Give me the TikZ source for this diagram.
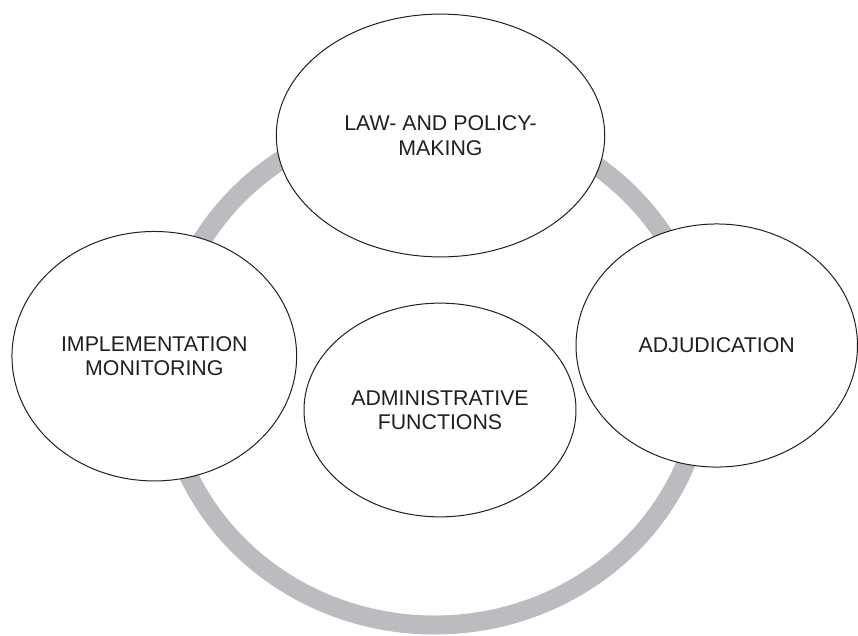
\documentclass[tikz,border=0pt]{standalone}
\usepackage{fontspec}
\setmainfont{Liberation Sans}
\usetikzlibrary{shapes.geometric}
\definecolor{ringgrey}{HTML}{BBBCBF}
\definecolor{inkblack}{HTML}{231F20}

\tikzset{
    func/.style={ellipse, draw=inkblack, fill=white, line width=0.75pt,
        inner sep=0pt, outer sep=0pt, align=center, text=inkblack,
        font=\fontsize{16}{18.4}\selectfont}
}

\begin{document}
\begin{tikzpicture}[x=0.75pt, y=-0.75pt]
    \useasboundingbox (0,0) rectangle (858,636);

    % the cycle behind the four functions
    \draw[ringgrey, line width=14.25pt] (434.5,370) ellipse [x radius=270, y radius=255];

    \node[func, minimum width=246.3pt, minimum height=182.1pt] (law) at (440.5,135.5) {LAW- AND POLICY-\\MAKING};
    \node[func, minimum width=213.5pt, minimum height=187.1pt] (impl) at (154.3,356.2) {IMPLEMENTATION\\MONITORING};
    \node[func, minimum width=211.1pt, minimum height=182.3pt] (adj) at (716.75,345.5) {ADJUDICATION};
    \node[func, minimum width=204pt, minimum height=160.3pt] (admin) at (440,410) {ADMINISTRATIVE\\FUNCTIONS};

\end{tikzpicture}
\end{document}
